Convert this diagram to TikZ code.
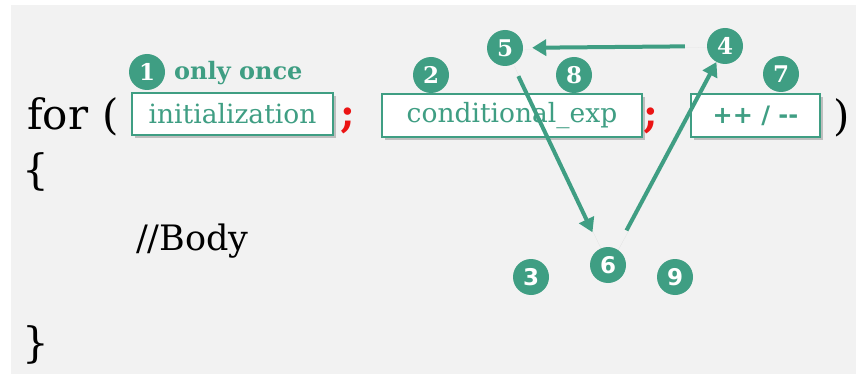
\documentclass[tikz,border=0pt]{standalone}
\usepackage{fontspec}
\setmainfont{DejaVu Serif}
\newfontfamily\numsans{DejaVu Sans}
\usetikzlibrary{arrows.meta,shadows}
\definecolor{teal}{RGB}{63,158,131}
\definecolor{slide}{RGB}{242,242,242}
\definecolor{semired}{RGB}{235,20,20}
\tikzset{
  code/.style={inner sep=0pt, text=black, font=\fontsize{42}{42}\selectfont},
  slotbox/.style={draw=teal, line width=1.4pt, fill=white, text=teal,
    inner sep=0pt, font=\fontsize{26.5}{26.5}\selectfont,
    drop shadow={shadow xshift=2.5pt, shadow yshift=-3pt, opacity=0.45, fill=gray}},
  semi/.style={inner sep=0pt, text=semired, font=\fontsize{40}{40}\selectfont\bfseries},
  stepnum/.style={circle, fill=teal, text=white, minimum size=36pt, inner sep=0pt,
    font=\fontsize{23}{23}\selectfont\bfseries},
  flow/.style={draw=teal, line width=4pt, -{Triangle[length=14pt,width=16pt]},
    drop shadow={shadow xshift=1.5pt, shadow yshift=-1.5pt, opacity=0.3, fill=gray}}
}
\begin{document}
\begin{tikzpicture}[x=1pt, y=-1pt]
  % page and slide background
  \fill[white] (0,0) rectangle (856,374);
  \fill[slide] (11,5) rectangle (856,374);
  \useasboundingbox (0,0) rectangle (856,374);

  % loop header
  \node[code, anchor=base west] (for) at (27,130) {for};
  \node[code] (lpar) at (111,117) {(};
  \node[slotbox, minimum width=201pt, minimum height=42pt] (init) at (232.5,114) {initialization};
  \node[semi] (semi1) at (348,121) {;};
  \node[slotbox, minimum width=260pt, minimum height=43pt] (cond) at (512,115.5) {conditional\_exp};
  \node[semi] (semi2) at (651,121) {;};
  \node[slotbox, minimum width=129pt, minimum height=43pt,
        font=\numsans\fontsize{24}{24}\selectfont\bfseries] (upd) at (755.5,115.5) {++ / --};
  \node[code] (rpar) at (842,118) {)};

  % loop body
  \node[code] (lbrace) at (36,172) {\{};
  \node[code, anchor=base west, font=\fontsize{35}{35}\selectfont] (body) at (136,250) {//Body};
  \node[code] (rbrace) at (36,345) {\}};

  % execution order markers
  \node[stepnum] (s1) at (147,72) {1};
  \node[anchor=west, text=teal, inner sep=0pt, font=\fontsize{24}{24}\selectfont\bfseries] (once) at (174,73) {only once};
  \node[stepnum] (s2) at (431,75) {2};
  \node[stepnum] (s3) at (531,277) {\numsans 3};
  \node[stepnum] (s4) at (725,46) {4};
  \node[stepnum] (s5) at (505,48) {5};
  \node[stepnum] (s6) at (608,265) {\numsans 6};
  \node[stepnum] (s7) at (781,74) {7};
  \node[stepnum] (s8) at (574,75) {8};
  \node[stepnum] (s9) at (675,277) {\numsans 9};

  % flow between the markers
  \draw[flow, shorten <=22pt, shorten >=9pt] (s4) -- (s5);
  \draw[flow, shorten <=13pt, shorten >=18pt] (s5) -- (s6);
  \draw[flow, shorten <=21pt, shorten >=0pt] (s6) -- (s4);
\end{tikzpicture}
\end{document}
